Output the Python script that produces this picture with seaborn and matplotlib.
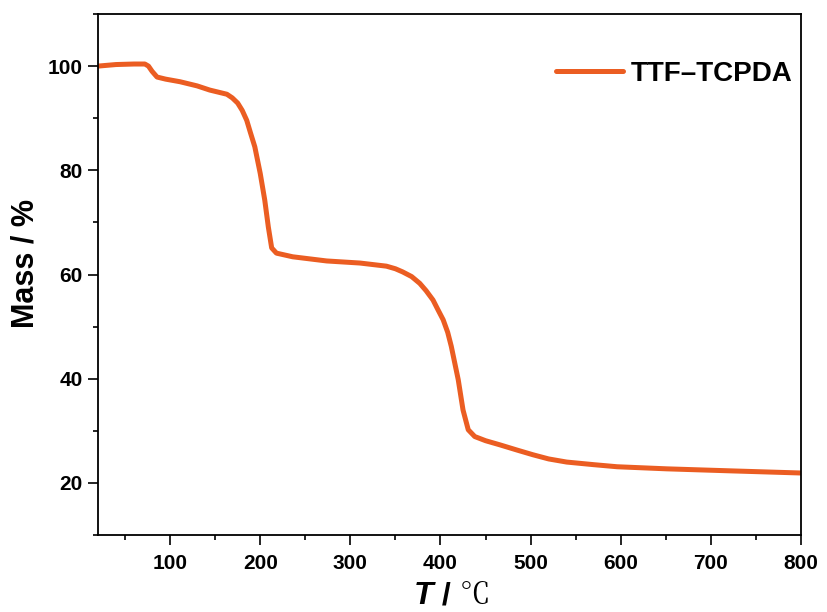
import matplotlib
matplotlib.use("Agg")
import matplotlib.pyplot as plt
import seaborn as sns
import pandas as pd
from matplotlib.ticker import MultipleLocator
from matplotlib.offsetbox import TextArea, HPacker, AnchoredOffsetbox

temperature = [20, 40, 60, 72, 76, 80, 85.5, 95, 111, 130, 144, 163, 169, 175, 180, 185, 189,
               194, 200, 205, 209, 212.7, 218, 236, 273.7, 310.7, 340, 350, 358, 368, 377,
               384, 391.7, 397, 403, 408, 412, 419.7, 425, 430.8, 438, 450, 466, 485, 502.6,
               520, 540, 570, 596, 651, 724, 800]
mass = [100.0, 100.3, 100.4, 100.4, 100.0, 99.0, 97.9, 97.5, 97.0, 96.2, 95.4, 94.6, 93.9,
        92.9, 91.5, 89.6, 87.3, 84.5, 79.4, 74.3, 69.1, 65.1, 64.1, 63.4, 62.6, 62.2, 61.6,
        61.1, 60.5, 59.6, 58.3, 56.9, 55.1, 53.3, 51.3, 48.9, 46.2, 39.8, 34.0, 30.2, 28.9,
        28.1, 27.3, 26.3, 25.4, 24.6, 24.0, 23.5, 23.1, 22.7, 22.3, 21.9]
series_name = "TTF\u2013TCPDA"
x_ticks = [100, 200, 300, 400, 500, 600, 700, 800]
y_ticks = [20, 40, 60, 80, 100]

sns.set_style("ticks")
plt.rcParams['font.family'] = ['Liberation Sans', 'DejaVu Sans']
plt.rcParams['text.color'] = 'black'
plt.rcParams['axes.labelcolor'] = 'black'
plt.rcParams['xtick.color'] = 'black'
plt.rcParams['ytick.color'] = 'black'

df = pd.DataFrame({"T": temperature, "Mass": mass, "Sample": series_name})

fig = plt.figure(figsize=(8.27, 6.12), dpi=100)
ax = fig.add_axes([98/827, 1-535/612, (801-98)/827, (535-14)/612])

sns.lineplot(data=df, x="T", y="Mass", hue="Sample", palette=["#EB5D22"],
             linewidth=3.6, ax=ax, sort=False)
for ln in ax.get_lines():
    ln.set_solid_joinstyle('round')

ax.set_xlim(20, 800)
ax.set_ylim(10, 110)
ax.set_xticks(x_ticks)
ax.set_yticks(y_ticks)
ax.xaxis.set_minor_locator(MultipleLocator(50))
ax.yaxis.set_minor_locator(MultipleLocator(10))
ax.tick_params(which='major', direction='out', length=7, width=1.2, labelsize=15, pad=4,
               colors='black')
ax.tick_params(axis='x', which='major', pad=6.5)
ax.tick_params(which='minor', direction='out', length=3.5, width=1.2, colors='black')
ax.tick_params(top=False, right=False, which='both')
for lab in ax.get_xticklabels() + ax.get_yticklabels():
    lab.set_fontweight('bold')
    lab.set_color('black')
for s in ax.spines.values():
    s.set_visible(True)
    s.set_linewidth(1.3)
    s.set_color('black')

ax.set_ylabel("Mass / %", fontsize=22, fontweight='bold', color='black')
ax.yaxis.set_label_coords(-0.082, (535-263)/521)
ax.set_xlabel("")

# composite x label: bold-italic T, bold slash, serif degree Celsius
t1 = TextArea("T", textprops=dict(fontsize=23, fontweight='bold', fontstyle='italic',
                                   family=['Liberation Sans'], color='black'))
t2 = TextArea(" / ", textprops=dict(fontsize=23, fontweight='bold', family=['Liberation Sans'],
                                    color='black'))
t3 = TextArea("\u2103", textprops=dict(fontsize=22, family=['Noto Serif CJK SC', 'DejaVu Serif'],
                                       color='black'))
box = HPacker(children=[t1, t2, t3], align="baseline", pad=0, sep=0)
anchored = AnchoredOffsetbox(loc='upper center', child=box, frameon=False,
                             bbox_to_anchor=(0.503, -0.086), bbox_transform=ax.transAxes,
                             borderpad=0, pad=0)
ax.add_artist(anchored)

leg = ax.legend(loc='upper right', frameon=False, fontsize=20, handlelength=2.4,
                handletextpad=0.3, bbox_to_anchor=(1.016, 0.947), borderaxespad=0.3)
for t in leg.get_texts():
    t.set_fontweight('bold')
    t.set_color('black')
for h in leg.get_lines():
    h.set_linewidth(3.6)

fig.savefig("out.png", dpi=100)
